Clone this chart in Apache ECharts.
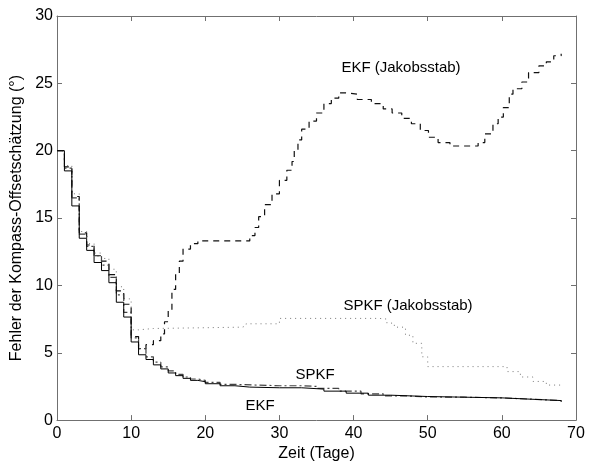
<!DOCTYPE html>
<html>
<head>
<meta charset="utf-8">
<script src="https://cdn.jsdelivr.net/npm/echarts@6/dist/echarts.min.js"></script>
<style>
  html, body { margin: 0; padding: 0; background: #fff; }
  #chart { width: 590px; height: 467px; }
</style>
</head>
<body>
<div id="chart"></div>
<script>
// Zeit (Tage) / Fehler (Grad)
var ekfX = [0, 1, 2, 3, 4, 5, 6, 7, 8, 9, 10, 11, 12, 13, 14, 15, 16, 17, 18, 19, 20, 22, 24, 26, 30, 33, 36, 39, 42, 45, 50, 55, 60, 64, 68];
var ekfY = [20.0, 18.5, 15.9, 13.5, 12.6, 11.7, 11.1, 10.2, 8.75, 7.65, 5.8, 4.85, 4.5, 4.1, 3.8, 3.5, 3.3, 3.1, 2.95, 2.85, 2.7, 2.55, 2.45, 2.4, 2.4, 2.3, 2.15, 2.0, 1.85, 1.75, 1.7, 1.65, 1.55, 1.45, 1.35];

var spkfX = [0, 1, 2, 3, 4, 5, 6, 7, 8, 9, 10, 11, 12, 13, 14, 15, 16, 17, 18, 19, 20, 22, 24, 27, 30, 33, 35, 38, 41, 44, 47, 50, 55, 60, 64, 68];
var spkfY = [20.0, 18.7, 16.5, 13.8, 12.9, 12.2, 11.5, 10.6, 9.3, 8.0, 6.1, 5.3, 4.7, 4.3, 3.95, 3.65, 3.4, 3.2, 3.05, 2.95, 2.8, 2.65, 2.6, 2.55, 2.55, 2.5, 2.35, 2.15, 1.95, 1.8, 1.72, 1.7, 1.65, 1.55, 1.45, 1.35];

var ekfJX = [0, 1, 2, 3, 4, 5, 6, 7, 8, 9, 10, 11, 12, 13, 14, 14.5, 15, 15.5, 16, 16.5, 17, 18, 19, 25, 26, 26.7, 27.2, 28, 29, 30, 31, 31.7, 32, 32.5, 33, 34, 35, 36, 37, 38, 39, 40.5, 42.4, 44, 45.2, 46.5, 47.8, 49, 50.1, 51.4, 53, 56.2, 56.8, 57.7, 58.8, 59.5, 60.2, 61, 61.5, 62.7, 63.6, 65, 66, 67, 68];
var ekfJY = [20.0, 18.8, 16.6, 13.9, 13.0, 12.2, 11.8, 10.8, 9.6, 8.6, 6.2, 5.3, 5.6, 5.9, 6.4, 7.3, 8.2, 9.7, 10.9, 11.8, 12.7, 13.1, 13.3, 13.3, 13.7, 14.3, 15.1, 16.0, 16.8, 17.8, 18.55, 19.2, 20.0, 20.8, 21.6, 22.2, 22.8, 23.5, 23.9, 24.3, 24.2, 23.8, 23.5, 23.1, 22.8, 22.4, 22.0, 21.5, 21.0, 20.6, 20.35, 20.35, 20.6, 21.25, 22.0, 22.5, 23.2, 24.2, 24.6, 25.1, 25.8, 26.3, 26.6, 27.05, 27.2];

var spkfJX = [0, 1, 2, 3, 4, 5, 6, 7, 8, 9, 10, 11, 13, 25, 25.5, 29.5, 30, 43.5, 44.5, 45.5, 47, 48, 49.2, 50, 59.5, 60.7, 62.5, 64.2, 66, 68];
var spkfJY = [20.0, 18.9, 16.8, 14.0, 13.1, 12.4, 12.0, 11.2, 9.9, 9.0, 6.7, 6.8, 6.9, 7.0, 7.15, 7.15, 7.55, 7.5, 7.2, 6.9, 6.3, 5.7, 4.7, 3.97, 3.97, 3.6, 3.2, 2.87, 2.6, 2.5];

var xTicks = [0, 10, 20, 30, 40, 50, 60, 70];
var yTicks = [0, 5, 10, 15, 20, 25, 30];

function pairs(xs, ys) {
  return xs.map(function (x, i) { return [x, ys[i]]; });
}

var chart = echarts.init(document.getElementById('chart'));
var font = 'Liberation Sans, Arial, sans-serif';
var axisGray = '#707070';

function boxAxis(base) {
  return Object.assign({
    type: 'value',
    axisLine: { show: true, onZero: false, lineStyle: { color: axisGray, width: 1 } },
    axisTick: { show: true, inside: true, length: 5, lineStyle: { color: axisGray } },
    splitLine: { show: false }
  }, base);
}

var option = {
  backgroundColor: '#fff',
  animation: false,
  grid: { left: 57, top: 16, right: 14, bottom: 43 },
  xAxis: [
    boxAxis({
      min: xTicks[0], max: xTicks[xTicks.length - 1], interval: 10, position: 'bottom',
      axisLabel: { color: '#000', fontSize: 16, fontFamily: font, margin: 5 },
      name: 'Zeit (Tage)', nameLocation: 'middle', nameGap: 20,
      nameTextStyle: { color: '#000', fontSize: 16, fontFamily: font }
    }),
    boxAxis({ min: 0, max: 70, interval: 10, position: 'top', axisLabel: { show: false } })
  ],
  yAxis: [
    boxAxis({
      min: yTicks[0], max: yTicks[yTicks.length - 1], interval: 5, position: 'left',
      axisLabel: { color: '#000', fontSize: 16, fontFamily: font, margin: 4 },
      name: 'Fehler der Kompass-Offsetschätzung (°)', nameLocation: 'middle', nameGap: 29,
      nameTextStyle: { color: '#000', fontSize: 16, fontFamily: font }
    }),
    boxAxis({ min: 0, max: 30, interval: 5, position: 'right', axisLabel: { show: false } })
  ],
  series: [
    {
      name: 'SPKF (Jakobsstab)', type: 'line', step: 'end', symbol: 'none',
      lineStyle: { color: '#777', width: 1, type: [1, 4] },
      data: pairs(spkfJX, spkfJY)
    },
    {
      name: 'EKF (Jakobsstab)', type: 'line', step: 'end', symbol: 'none',
      lineStyle: { color: '#111', width: 1.2, type: [6, 5] },
      data: pairs(ekfJX, ekfJY)
    },
    {
      name: 'SPKF', type: 'line', step: 'end', symbol: 'none',
      lineStyle: { color: '#444', width: 1.2, type: [7, 3, 2, 3] },
      data: pairs(spkfX, spkfY)
    },
    {
      name: 'EKF', type: 'line', step: 'end', symbol: 'none',
      lineStyle: { color: '#000', width: 1 },
      data: pairs(ekfX, ekfY)
    }
  ],
  graphic: [
    { type: 'text', x: 401, y: 68, style: { text: 'EKF (Jakobsstab)', fill: '#000', font: '15px ' + font, align: 'center', verticalAlign: 'middle' } },
    { type: 'text', x: 408, y: 306, style: { text: 'SPKF (Jakobsstab)', fill: '#000', font: '15px ' + font, align: 'center', verticalAlign: 'middle' } },
    { type: 'text', x: 315, y: 375, style: { text: 'SPKF', fill: '#000', font: '15px ' + font, align: 'center', verticalAlign: 'middle' } },
    { type: 'text', x: 260, y: 406, style: { text: 'EKF', fill: '#000', font: '15px ' + font, align: 'center', verticalAlign: 'middle' } }
  ]
};

chart.setOption(option);
</script>
</body>
</html>
